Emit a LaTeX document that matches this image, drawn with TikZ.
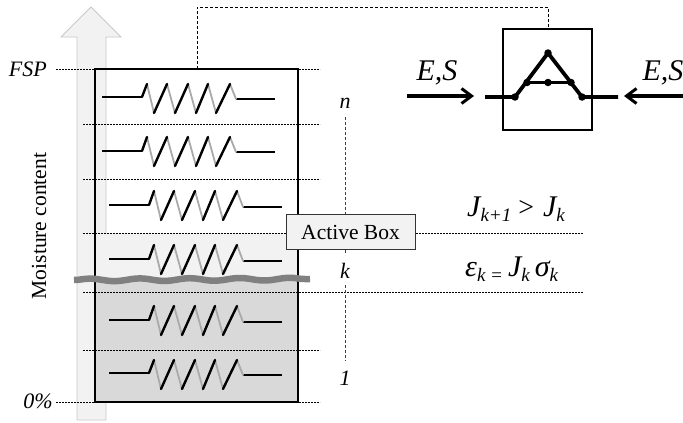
\documentclass[tikz,border=0pt]{standalone}
\usepackage{fontspec}
\setmainfont{Liberation Serif}
\usepackage{xcolor}
\usetikzlibrary{arrows.meta,decorations.pathmorphing}
\definecolor{pale}{HTML}{F2F2F2}
\definecolor{wet}{HTML}{D9D9D9}
\definecolor{edge}{HTML}{C8C8C8}
\definecolor{soft}{HTML}{AAAAAA}
\definecolor{crack}{HTML}{808080}
\newcommand{\lowtxt}[2][19pt]{\raisebox{-5pt}{\fontsize{#1}{#1}\selectfont\textit{#2}}}
\tikzset{
  frame/.style={draw=black, line width=2.2pt, line join=miter},
  level/.style={draw=black, line width=0.6pt, dash pattern=on 2pt off 1pt},
  link/.style={draw=black, line width=0.7pt, dash pattern=on 3pt off 2pt},
  lead/.style={draw=black, line width=1.5pt},
  rise/.style={draw=black, line width=2.4pt, line cap=round},
  fall/.style={draw=soft, line width=1.8pt, line cap=round},
  rod/.style={draw=black, line width=3.8pt},
  joint/.style={circle, fill=black, inner sep=0pt, minimum size=7.5pt},
  push/.style={draw=black, line width=3.2pt, -{Straight Barb[length=10pt,width=15pt,line width=3pt]}},
  lab/.style={inner sep=0pt, font=\fontsize{21.5}{21.5}\selectfont},
  ilab/.style={inner sep=0pt, font=\fontsize{22}{22}\selectfont\itshape},
  elab/.style={inner sep=0pt, font=\fontsize{30}{30}\selectfont\itshape},
}

\begin{document}
\begin{tikzpicture}[x=1pt,y=-1pt]
  \useasboundingbox (0,0) rectangle (683,423);

  % moisture arrow
  \draw[draw=edge, fill=pale, line width=0.9pt] (77,420)--(77,37)--(61,37)--(91,7)--(121,37)--(106,37)--(106,420)--cycle;

  % wet part of the stack
  \fill[pale] (95,233) rectangle (298,280);
  \fill[wet] (95,280) rectangle (298,402);

  % levels
  \draw[level] (56,69)--(320,69);
  \foreach \yy in {124,179,350}
    \draw[level] (83,\yy)--(320,\yy);
  \draw[level] (83,233)--(583,233);
  \draw[level] (83,292)--(583,292);
  \draw[level] (56,402)--(320,402);

  % index line
  \draw[link, draw=black!75] (345,117)--(345,214);
  \draw[link, draw=black!75] (345,250)--(345,255);
  \draw[link, draw=black!75] (345,285)--(345,361);

  % springs: dx, top, lead y left, lead y right
  \foreach \dx/\yy/\yl/\yr in {0/84/97/99, 0/137/151/152, 7/191/205/207, 7/245/259/261, 7/306/320/322, 7/360/373/375} {
    \begin{scope}[xshift=\dx pt]
      \draw[lead] (102,\yl)--(142,\yl);
      \draw[lead] (236,\yr)--(275,\yr);
      \foreach \xa/\xb in {147/154,167/175,188/196,208/216}
        \draw[fall] (\xa,\yy)--(\xb,\yy+29);
      \draw[fall] (230,\yy)--(236,\yr);
      \foreach \xa/\xb in {154/167,175/188,196/208,216/230}
        \draw[rise] (\xa,\yy+29)--(\xb,\yy);
      \draw[rise] (142,\yl)--(147,\yy);
    \end{scope}
  }

  \draw[frame] (95,69) rectangle (298,402);

  % crack line
  \draw[draw=crack, line width=6.5pt, decorate, decoration={snake, amplitude=1.3pt, segment length=50pt}] (74,280)--(310,279);

  \node[draw=black!80, fill=pale, line width=0.8pt, minimum width=129pt, minimum height=35pt, inner sep=0pt, font=\fontsize{21.5}{21.5}\selectfont] (active) at (350.5,232) {Active Box};

  % link to the element
  \coordinate (linkA) at (197,69);
  \coordinate (linkB) at (197,7);
  \coordinate (linkC) at (548,7);
  \coordinate (linkD) at (548,29);
  \draw[link] (linkA)--(linkB)--(linkC)--(linkD);

  % element
  \draw[line width=1.9pt] (503,29) rectangle (592,130);
  \node[joint] (jL) at (515,97) {};
  \node[joint] (jR) at (582,97) {};
  \node[joint] (jT) at (548,53) {};
  \node[joint] (jA) at (527,82.5) {};
  \node[joint] (jB) at (571,82.5) {};
  \node[joint] (jM) at (548,82.5) {};
  \draw[rod] (485,97)--(515,97)--(548,53)--(582,97)--(618,97);
  \draw[rod] (jA.center)--(jB.center);

  \coordinate (inA) at (407,96);
  \coordinate (inB) at (474,96);
  \coordinate (inC) at (683,96);
  \coordinate (inD) at (624,96);
  \draw[push] (inA)--(inB);
  \draw[push] (inC)--(inD);
  \node[elab] (esL) at (437,73) {E,S};
  \node[elab] (esR) at (663,73) {E,S};

  % labels
  \node[ilab, anchor=east] (fsp) at (47,69) {FSP};
  \node[ilab, anchor=east] (zero) at (53,401) {0\%};
  \node[lab, rotate=90] (moist) at (39,226) {Moisture content};
  \node[ilab] (nn) at (345,103) {n};
  \node[ilab] (kk) at (345,271) {k};
  \node[ilab] (one) at (345,378) {1};

  \node[inner sep=0pt, font=\fontsize{30}{30}\selectfont\itshape, anchor=west] (jrel) at (467,209)
    {J\lowtxt{k+1}\hspace{7pt}{\upshape\fontsize{28}{28}\selectfont >}\hspace{9pt}J\lowtxt{k}};
  \node[inner sep=0pt, font=\fontsize{30}{30}\selectfont\itshape, anchor=west] (eps) at (465,269)
    {ε\lowtxt{k =}\,J\lowtxt{k}\,σ\lowtxt{k}};
\end{tikzpicture}
\end{document}
